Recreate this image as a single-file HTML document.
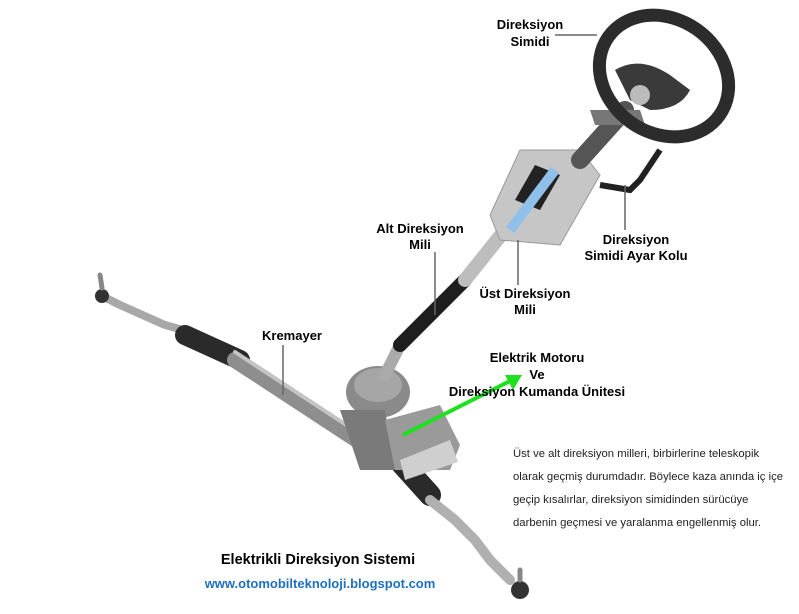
<!DOCTYPE html>
<html><head><meta charset="utf-8"><style>
body{margin:0;background:#fff;}
svg{display:block}
text{font-family:"Liberation Sans",sans-serif;}
.b{font-weight:bold;font-size:13px;fill:#000;text-anchor:middle}
.p{font-size:11.3px;fill:#222}
</style></head><body>
<svg width="799" height="614" viewBox="0 0 799 614">
<rect width="799" height="614" fill="#fff"/>
<!-- rack -->
<g stroke-linecap="round" fill="none">
<path d="M100 295 L120 305 L165 325 L190 332" stroke="#a8a8a8" stroke-width="8"/>
<circle cx="102" cy="296" r="7" fill="#333" stroke="none"/>
<line x1="102" y1="288" x2="100" y2="275" stroke="#888" stroke-width="5"/>
<path d="M185 335 L240 360" stroke="#2a2a2a" stroke-width="20"/>
<path d="M235 360 L380 455" stroke="#8e8e8e" stroke-width="16"/>
<path d="M235 352 L380 447" stroke="#c4c4c4" stroke-width="4"/>
<path d="M385 445 L430 495" stroke="#2a2a2a" stroke-width="22"/>
<path d="M430 500 L455 520 L475 540 L490 560 L510 580" stroke="#b0b0b0" stroke-width="10"/>
<circle cx="520" cy="590" r="9" fill="#333" stroke="none"/>
<line x1="520" y1="580" x2="520" y2="570" stroke="#888" stroke-width="5"/>
</g>
<!-- housing & motor -->
<ellipse cx="378" cy="392" rx="32" ry="26" fill="#8a8a8a"/>
<ellipse cx="378" cy="385" rx="24" ry="17" fill="#a6a6a6"/>
<path d="M340 410 L360 470 L395 470 L385 410 Z" fill="#7a7a7a"/>
<path d="M385 420 L440 405 L460 445 L450 470 L395 470 Z" fill="#9a9a9a"/>
<path d="M400 460 L450 440 L458 462 L405 480 Z" fill="#cfcfcf"/>
<!-- lower column -->
<g stroke-linecap="round" fill="none">
<path d="M385 375 L400 345" stroke="#aaa" stroke-width="12"/>
<path d="M400 345 L465 280" stroke="#1e1e1e" stroke-width="14"/>
<path d="M465 280 L505 230" stroke="#bdbdbd" stroke-width="14"/>
<path d="M505 235 L520 215" stroke="#6aa7dd" stroke-width="12"/>
</g>
<!-- plate -->
<path d="M490 215 L520 150 L580 150 L600 175 L560 245 L500 240 Z" fill="#c6c6c6" stroke="#999"/>
<path d="M515 200 L535 165 L560 175 L540 210 Z" fill="#222"/>
<path d="M510 230 L555 170" stroke="#8fc0ea" stroke-width="10"/>
<!-- upper column -->
<path d="M580 160 L625 110" stroke="#555" stroke-width="18" stroke-linecap="round"/>
<path d="M590 110 L640 110 L645 125 L595 125 Z" fill="#777"/>
<path d="M600 185 L630 190 L640 180 L660 150" stroke="#222" stroke-width="6" fill="none"/>
<!-- wheel -->
<ellipse cx="664" cy="76" rx="68" ry="57" transform="rotate(35 664 76)" fill="none" stroke="#2c2c2c" stroke-width="13"/>
<path d="M615 70 Q640 55 670 75 L690 90 Q680 110 650 110 L630 100 Z" fill="#3a3a3a"/>
<circle cx="640" cy="95" r="10" fill="#bbb"/>
<!-- leader lines -->
<g stroke="#666" stroke-width="1.5">
<line x1="555" y1="35" x2="597" y2="35"/>
<line x1="435" y1="252" x2="435" y2="315"/>
<line x1="625" y1="185" x2="625" y2="230"/>
<line x1="518" y1="240" x2="518" y2="285"/>
<line x1="283" y1="345" x2="283" y2="395"/>
</g>
<!-- green arrow -->
<line x1="403" y1="435" x2="512" y2="380" stroke="#1ee01e" stroke-width="4"/>
<polygon points="522,375 505,375 513,390" fill="#1ee01e"/>
<!-- labels -->
<text class="b" x="530" y="29">Direksiyon</text>
<text class="b" x="530" y="46">Simidi</text>
<text class="b" x="420" y="233">Alt Direksiyon</text>
<text class="b" x="420" y="249">Mili</text>
<text class="b" x="636" y="244">Direksiyon</text>
<text class="b" x="636" y="260">Simidi Ayar Kolu</text>
<text class="b" x="525" y="298">Üst Direksiyon</text>
<text class="b" x="525" y="314">Mili</text>
<text class="b" x="292" y="340">Kremayer</text>
<text class="b" x="537" y="362">Elektrik Motoru</text>
<text class="b" x="537" y="379">Ve</text>
<text class="b" x="537" y="396">Direksiyon Kumanda Ünitesi</text>
<text class="p" x="513" y="457">Üst ve alt direksiyon milleri, birbirlerine teleskopik</text>
<text class="p" x="513" y="480">olarak geçmiş durumdadır. Böylece kaza anında iç içe</text>
<text class="p" x="513" y="503">geçip kısalırlar, direksiyon simidinden sürücüye</text>
<text class="p" x="513" y="526">darbenin geçmesi ve yaralanma engellenmiş olur.</text>
<text class="b" x="318" y="564" style="font-size:14.5px">Elektrikli Direksiyon Sistemi</text>
<text class="b" x="320" y="588" style="fill:#1f6fc0">www.otomobilteknoloji.blogspot.com</text>
</svg>
</body></html>
